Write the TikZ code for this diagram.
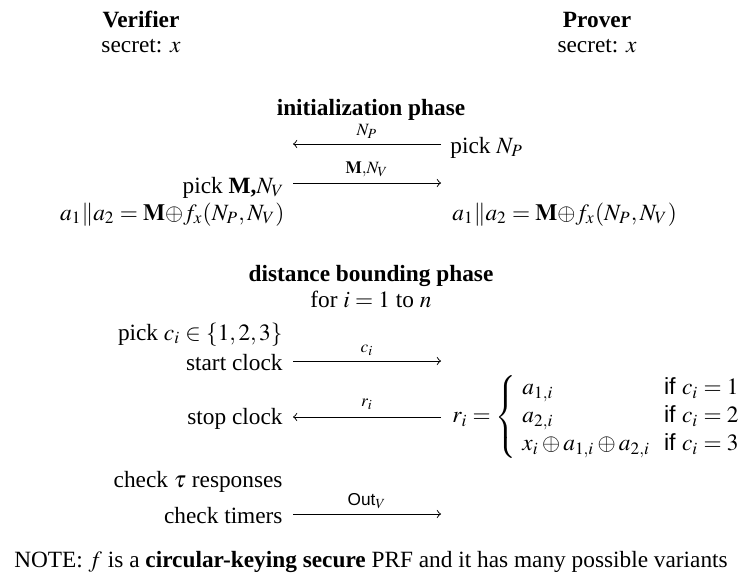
\documentclass[tikz,border=0pt]{standalone}
\usepackage{amsmath}
\usepackage{mathptmx}
\usepackage{fontspec}
\setmainfont{Liberation Serif}
\setsansfont{Liberation Sans}
\usetikzlibrary{calc}
\begin{document}
\begin{tikzpicture}[x=0.429pt,y=-0.429pt,
  txt/.style={inner sep=0pt},
  lbl/.style={inner sep=0pt, anchor=base},
  msg/.style={->, line width=0.4pt}]
\useasboundingbox (0,0) rectangle (742,577);
% headers
\node[txt,anchor=base] (ver) at (141,27) {\textbf{Verifier}};
\node[txt,anchor=base] (vsec) at (141,52) {secret: $x$};
\node[txt,anchor=base] (pro) at (597,27) {\textbf{Prover}};
\node[txt,anchor=base] (psec) at (597,52) {secret: $x$};
% initialization phase
\node[txt,anchor=base] (init) at (371,115) {\textbf{initialization phase}};
\node[txt,anchor=base west] (pnp) at (450,153) {pick $N_P$};
\coordinate (np1) at (441,144);
\coordinate (np2) at (293,144);
\draw[msg] (np1) -- (np2);
\node[lbl] (lnp) at (367,135) {$\scriptstyle N_P$};
\node[txt,anchor=base east] (pm) at (285,193) {pick \textbf{M,}$N_V$};
\coordinate (m1) at (293,183);
\coordinate (m2) at (441,183);
\draw[msg] (m1) -- (m2);
\node[lbl] (lm) at (367,173) {$\scriptstyle \mathbf{M},N_V$};
\node[txt,anchor=base east] (va) at (285,220) {$a_1\|a_2=\mathbf{M}{\oplus}f_x(N_P,N_V)$};
\node[txt,anchor=base west] (pa) at (452,220) {$a_1\|a_2=\mathbf{M}{\oplus}f_x(N_P,N_V)$};
% distance bounding phase
\node[txt,anchor=base] (dbp) at (371,281) {\textbf{distance bounding phase}};
\node[txt,anchor=base] (fori) at (371,307) {for $i=1$ to $n$};
\node[txt,anchor=base east] (pc) at (283,340) {pick $c_i\in\{1,2,3\}$};
\node[txt,anchor=base east] (sc) at (283,370) {start clock};
\coordinate (c1) at (293,361);
\coordinate (c2) at (441,361);
\draw[msg] (c1) -- (c2);
\node[lbl] (lc) at (367,352) {$\scriptstyle c_i$};
\node[txt,anchor=base east] (stc) at (283,424) {stop clock};
\coordinate (r1) at (441,417);
\coordinate (r2) at (293,417);
\draw[msg] (r1) -- (r2);
\node[lbl] (lr) at (367,406) {$\scriptstyle r_i$};
\node[txt,anchor=west] (cases) at (452,417) {$r_i=\left\{\begin{array}{@{\hspace{2.5pt}}l@{\hspace{6pt}}l@{}} a_{1,i} & \textsf{if } c_i=1\\ a_{2,i} & \textsf{if } c_i=2\\ x_i\oplus a_{1,i}\oplus a_{2,i} & \textsf{if } c_i=3\end{array}\right.$};
\node[txt,anchor=base east] (ct) at (283,487) {check $\tau$ responses};
\node[txt,anchor=base east] (ctm) at (283,523) {check timers};
\coordinate (o1) at (293,514);
\coordinate (o2) at (441,514);
\draw[msg] (o1) -- (o2);
\node[lbl] (lo) at (367,505) {$\scriptstyle \textsf{Out}_V$};
% note
\node[txt,anchor=base] (note) at (371,567) {NOTE: $f$ is a \textbf{circular-keying secure} PRF and it has many possible variants};
\end{tikzpicture}
\end{document}
